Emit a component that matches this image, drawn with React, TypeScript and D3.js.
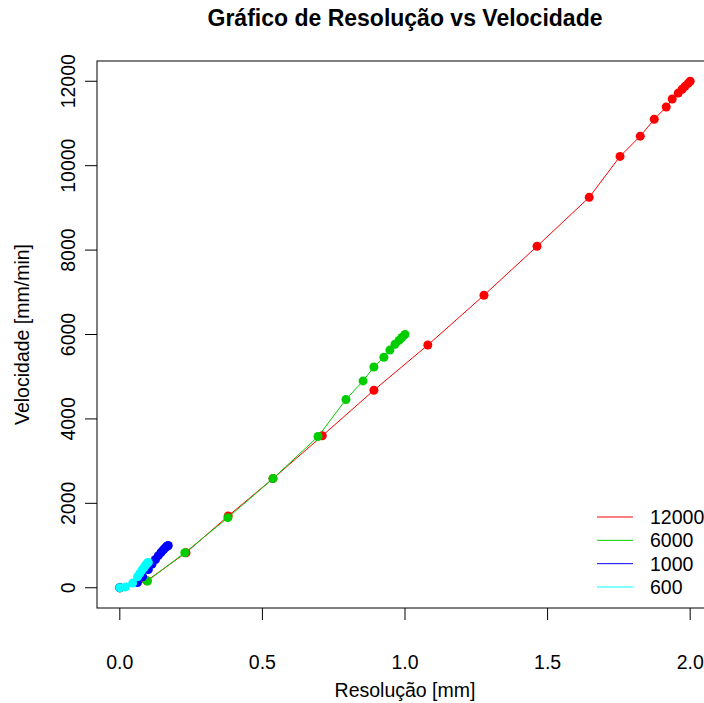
import React from 'react';
import * as d3 from 'd3';

// series (resolution mm, velocity mm/min)
const res12000 = [0, 0.095, 0.232, 0.38, 0.537, 0.71, 0.891, 1.08, 1.277, 1.463, 1.646, 1.754, 1.825, 1.874, 1.916, 1.937, 1.958, 1.972, 1.982, 1.993, 2.0];
const vel12000 = [0, 166, 830, 1700, 2586, 3600, 4680, 5750, 6930, 8090, 9250, 10220, 10700, 11100, 11390, 11580, 11720, 11810, 11880, 11950, 12000];

const res6000 = [0, 0.097, 0.228, 0.379, 0.537, 0.695, 0.793, 0.853, 0.891, 0.926, 0.947, 0.965, 0.979, 0.989, 1.0];
const vel6000 = [0, 160, 830, 1660, 2586, 3582, 4460, 4900, 5230, 5460, 5630, 5770, 5860, 5930, 6000];

const res1000 = [0, 0.062, 0.08, 0.1, 0.113, 0.125, 0.135, 0.145, 0.153, 0.159, 0.164, 0.167, 0.17];
const vel1000 = [0, 125, 260, 430, 560, 670, 760, 840, 900, 945, 975, 990, 1000];

const res600 = [0, 0.02, 0.045, 0.062, 0.07, 0.078, 0.085, 0.09, 0.094, 0.097, 0.1];
const vel600 = [0, 20, 110, 260, 340, 420, 480, 530, 565, 590, 600];

const seriesNames = ['12000', '6000', '1000', '600'];
const seriesColors = ['#FF0000', '#00CD00', '#0000FF', '#00FFFF'];
const xTicks = [0, 0.5, 1.0, 1.5, 2.0];
const yTicks = [0, 2000, 4000, 6000, 8000, 10000, 12000];

const W = 704;
const H = 703;
const box = { left: 97, right: 713, top: 61, bottom: 608 };
const font = '"Liberation Sans", Arial, sans-serif';
const fs = 19.5;

export default function App() {
  const x = d3.scaleLinear().domain([-0.08, 2.08]).range([box.left, box.right]);
  const y = d3.scaleLinear().domain([-480, 12480]).range([box.bottom, box.top]);

  const allRes = [res12000, res6000, res1000, res600];
  const allVel = [vel12000, vel6000, vel1000, vel600];
  const series = seriesNames.map((name, i) => ({
    name,
    color: seriesColors[i],
    pts: allRes[i].map((r, j) => [r, allVel[i][j]] as [number, number]),
  }));

  const line = d3
    .line<[number, number]>()
    .x((d) => x(d[0]))
    .y((d) => y(d[1]));

  const cx = (box.left + box.right) / 2;
  const cy = (box.top + box.bottom) / 2;
  const legendY = d3.scalePoint<string>().domain(seriesNames).range([517, 587]);

  return (
    <svg
      width={W}
      height={H}
      style={{ position: 'absolute', left: 0, top: 0, background: '#fff' }}
      fontFamily={font}
    >
      <rect x={0} y={0} width={W} height={H} fill="#fff" />
      <text x={cx} y={26} textAnchor="middle" fontSize={23} fontWeight="bold">
        Gráfico de Resolução vs Velocidade
      </text>

      {series.map((s) => (
        <g key={s.name}>
          <path d={line(s.pts) || ''} fill="none" stroke={s.color} strokeWidth={1} />
          {s.pts.map((p, j) => (
            <circle key={j} cx={x(p[0])} cy={y(p[1])} r={4.5} fill={s.color} />
          ))}
        </g>
      ))}

      <rect
        x={box.left}
        y={box.top}
        width={box.right - box.left}
        height={box.bottom - box.top}
        fill="none"
        stroke="#000"
        strokeWidth={1}
      />

      {/* x axis */}
      {xTicks.map((t) => (
        <g key={t}>
          <line x1={x(t)} x2={x(t)} y1={box.bottom} y2={box.bottom + 12} stroke="#000" />
          <text x={x(t)} y={669} textAnchor="middle" fontSize={fs}>
            {t.toFixed(1)}
          </text>
        </g>
      ))}
      <text x={cx} y={697} textAnchor="middle" fontSize={fs}>
        Resolução [mm]
      </text>

      {/* y axis */}
      {yTicks.map((t) => (
        <g key={t}>
          <line x1={box.left - 12} x2={box.left} y1={y(t)} y2={y(t)} stroke="#000" />
          <text
            transform={`translate(75,${y(t)}) rotate(-90)`}
            textAnchor="middle"
            fontSize={fs}
          >
            {t}
          </text>
        </g>
      ))}
      <text transform={`translate(29,${cy}) rotate(-90)`} textAnchor="middle" fontSize={fs}>
        Velocidade [mm/min]
      </text>

      {/* legend */}
      {series.map((s) => (
        <g key={'lg' + s.name}>
          <line
            x1={597}
            x2={633}
            y1={legendY(s.name)}
            y2={legendY(s.name)}
            stroke={s.color}
            strokeWidth={1}
          />
          <text x={650} y={(legendY(s.name) || 0) + 7} fontSize={fs}>
            {s.name}
          </text>
        </g>
      ))}
    </svg>
  );
}
